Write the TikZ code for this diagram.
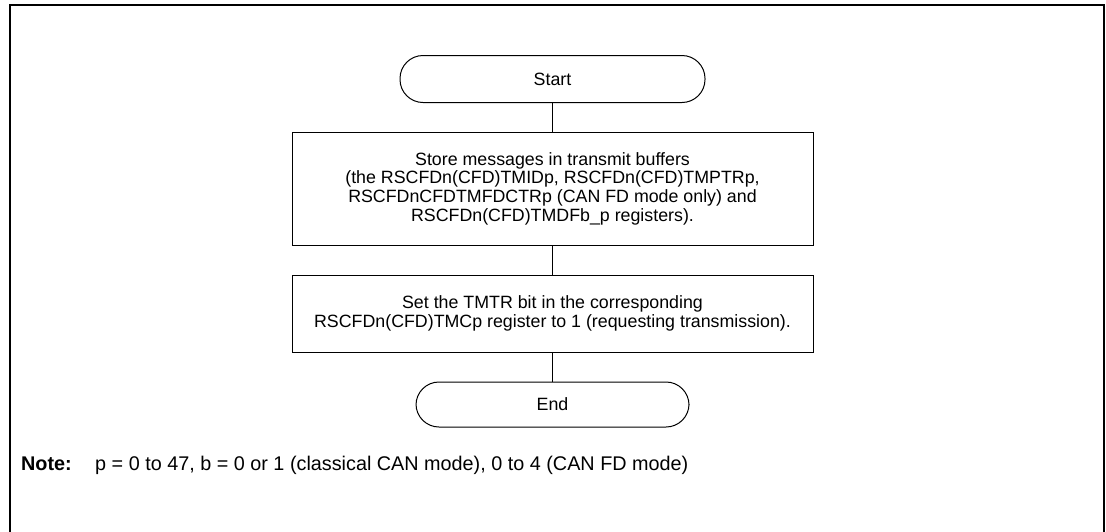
\documentclass[tikz,border=0pt]{standalone}
\usepackage{fontspec}
\setmainfont{Liberation Sans}
\begin{document}
\begin{tikzpicture}[x=1pt,y=-1pt,
  every node/.style={font=\fontsize{17.8}{18.7}\selectfont},
  term/.style={draw, line width=1pt, rounded corners=23pt, minimum height=47pt, inner sep=0pt},
  proc/.style={draw, line width=1pt, minimum width=521pt, inner sep=0pt, align=center},
  conn/.style={line width=1pt},
  frame/.style={line width=2.8pt},
  note/.style={anchor=base west, inner sep=0pt, font=\fontsize{19.8}{22}\selectfont}]
\useasboundingbox (0,0) rectangle (1106,531);
\draw[frame] (10,545) -- (10,5) -- (1104,5) -- (1104,545);
\node[term, minimum width=305pt] (start) at (552.5,79) {Start};
\node[proc, minimum height=113pt] (store) at (552.5,188.5) {Store messages in transmit buffers\\(the RSCFDn(CFD)TMIDp, RSCFDn(CFD)TMPTRp,\\RSCFDnCFDTMFDCTRp (CAN FD mode only) and\\RSCFDn(CFD)TMDFb\_p registers).};
\node[proc, minimum height=77pt] (set) at (552.5,313.5) {Set the TMTR bit in the corresponding\\RSCFDn(CFD)TMCp register to 1 (requesting transmission).};
\node[term, minimum width=273pt, minimum height=45pt] (end) at (552.5,404.5) {End};
\draw[conn] (start) -- (store);
\draw[conn] (store) -- (set);
\draw[conn] (set) -- (end);
\node[note] (notelbl) at (21,470) {\textbf{Note:}};
\node[note] (notetxt) at (95,470) {p = 0 to 47, b = 0 or 1 (classical CAN mode), 0 to 4 (CAN FD mode)};
\end{tikzpicture}
\end{document}
